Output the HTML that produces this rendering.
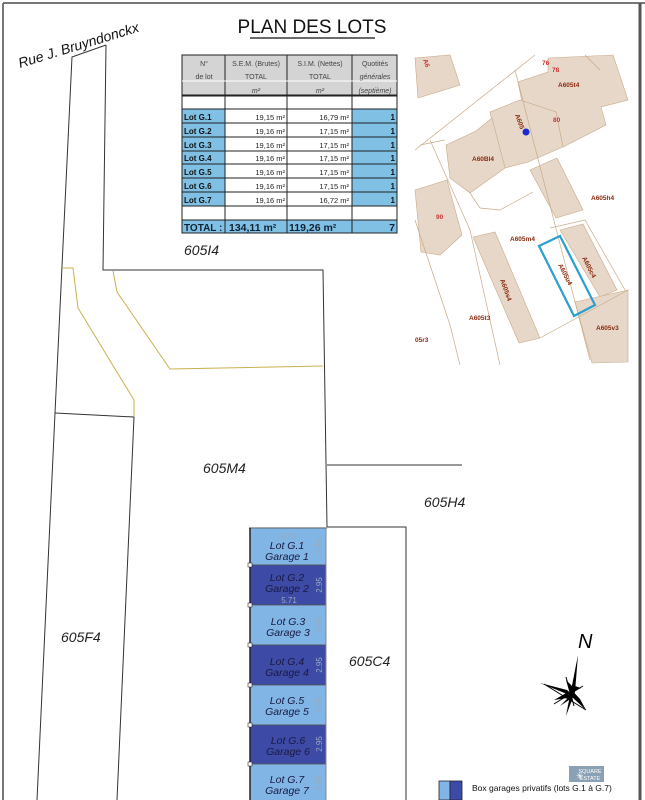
<!DOCTYPE html>
<html><head><meta charset="utf-8"><style>
html,body{margin:0;padding:0;background:#fff}
svg{display:block}
text{font-family:"Liberation Sans","DejaVu Sans",sans-serif}
</style></head><body>
<svg width="645" height="800" viewBox="0 0 645 800" xmlns="http://www.w3.org/2000/svg">
<rect width="645" height="800" fill="#fff"/>
<!-- page frame -->
<line x1="3" y1="3" x2="645" y2="3" stroke="#777" stroke-width="2"/>
<line x1="3" y1="3" x2="3" y2="800" stroke="#777" stroke-width="2"/>
<line x1="640" y1="3" x2="640" y2="800" stroke="#555" stroke-width="3"/>

<!-- title -->
<text x="312" y="33" font-size="19" text-anchor="middle" fill="#111" font-family="Liberation Sans, sans-serif">PLAN DES LOTS</text>
<line x1="250" y1="38" x2="375" y2="38" stroke="#111" stroke-width="1.3"/>

<!-- street -->
<text x="20" y="68" font-size="14" font-style="italic" fill="#111" transform="rotate(-17 20 68)">Rue J. Bruyndonckx</text>

<!-- plot lines -->
<g stroke="#333" stroke-width="1" fill="none">
<polyline points="106,45 72,57 55,413 37,800"/>
<polyline points="106,45 103,270 323,270 327,527"/>
<polyline points="55,413 134,417 117,800"/>
<line x1="327" y1="465" x2="462" y2="465"/>
<polyline points="327,527 406,527 406,800"/>
<line x1="249" y1="528" x2="327" y2="528"/>
</g>
<g stroke="#c9b050" stroke-width="1" fill="none">
<polyline points="62,268 73,268 78,308 134,400 134,416"/>
<polyline points="113,271 117,292 170,369 323,366"/>
</g>

<!-- garages -->
<g stroke="#555" stroke-width="0.8">
<rect x="250" y="528" width="76" height="37" fill="#80b5e6"/>
<rect x="250" y="565" width="76" height="40" fill="#3d4aa6"/>
<rect x="250" y="605" width="76" height="40" fill="#80b5e6"/>
<rect x="250" y="645" width="76" height="40" fill="#3d4aa6"/>
<rect x="250" y="685" width="76" height="40" fill="#80b5e6"/>
<rect x="250" y="725" width="76" height="39" fill="#3d4aa6"/>
<rect x="250" y="764" width="76" height="40" fill="#80b5e6"/>
</g>
<line x1="250" y1="528" x2="250" y2="800" stroke="#222" stroke-width="1.5"/>
<line x1="326" y1="528" x2="326" y2="800" stroke="#888" stroke-width="1"/>
<g fill="#fff" stroke="#333" stroke-width="0.6">
<rect x="248" y="563" width="4" height="4"/><rect x="248" y="603" width="4" height="4"/>
<rect x="248" y="643" width="4" height="4"/><rect x="248" y="683" width="4" height="4"/>
<rect x="248" y="723" width="4" height="4"/><rect x="248" y="762" width="4" height="4"/>
</g>
<g font-size="10.5" font-style="italic" fill="#1a1a40" text-anchor="middle">
<text x="287" y="549">Lot  G.1</text><text x="287" y="560">Garage  1</text>
<text x="287" y="581">Lot  G.2</text><text x="287" y="592">Garage  2</text>
<text x="288" y="625">Lot  G.3</text><text x="288" y="636">Garage  3</text>
<text x="287" y="665">Lot  G.4</text><text x="287" y="676">Garage  4</text>
<text x="287" y="704">Lot  G.5</text><text x="287" y="715">Garage  5</text>
<text x="288" y="744">Lot  G.6</text><text x="288" y="755">Garage  6</text>
<text x="287" y="783">Lot  G.7</text><text x="287" y="794">Garage  7</text>
</g>
<g font-size="8" fill="#9ab" text-anchor="middle">
<text x="289" y="539">5.71</text><text x="289" y="603">5.71</text>
<text transform="translate(322,547) rotate(-90)">2.88</text>
<text transform="translate(322,585) rotate(-90)">2.95</text>
<text transform="translate(322,625) rotate(-90)">2.95</text>
<text transform="translate(322,665) rotate(-90)">2.95</text>
<text transform="translate(322,705) rotate(-90)">2.95</text>
<text transform="translate(322,744) rotate(-90)">2.95</text>
<text transform="translate(322,783) rotate(-90)">2.88</text>
</g>

<!-- plot labels -->
<g font-size="14" font-style="italic" fill="#222">
<text x="184" y="255">605I4</text>
<text x="203" y="473">605M4</text>
<text x="424" y="507">605H4</text>
<text x="61" y="642">605F4</text>
<text x="349" y="666">605C4</text>
</g>

<!-- table -->
<g stroke="#222" stroke-width="1">
<rect x="182" y="55" width="215" height="40" fill="#d4d4d4"/>
<rect x="182" y="96" width="215" height="13" fill="#fff"/>
<rect x="182" y="109" width="43" height="97" fill="#7fc0e4"/>
<rect x="225" y="109" width="127" height="97" fill="#fff"/>
<rect x="352" y="109" width="45" height="97" fill="#7fc0e4"/>
<rect x="182" y="206" width="215" height="14" fill="#fff"/>
<rect x="182" y="220" width="215" height="13" fill="#7fc0e4"/>
<line x1="225" y1="55" x2="225" y2="233"/><line x1="287" y1="55" x2="287" y2="233"/><line x1="352" y1="55" x2="352" y2="233"/>
<line x1="182" y1="81" x2="397" y2="81" stroke="#fff"/>
<line x1="182" y1="123" x2="397" y2="123"/><line x1="182" y1="137" x2="397" y2="137"/>
<line x1="182" y1="151" x2="397" y2="151"/><line x1="182" y1="164" x2="397" y2="164"/>
<line x1="182" y1="178" x2="397" y2="178"/><line x1="182" y1="192" x2="397" y2="192"/>
</g>
<g font-size="7" fill="#444" text-anchor="middle">
<text x="204" y="66">N°</text><text x="204" y="79">de lot</text>
<text x="256" y="66">S.E.M. (Brutes)</text><text x="256" y="79">TOTAL</text>
<text x="320" y="66">S.I.M. (Nettes)</text><text x="320" y="79">TOTAL</text>
<text x="375" y="66">Quotités</text><text x="375" y="79" font-style="italic">générales</text>
<text x="256" y="93" font-style="italic">m²</text><text x="320" y="93" font-style="italic">m²</text>
<text x="375" y="93" font-style="italic">(septième)</text>
</g>
<g font-size="8" font-family="Liberation Serif, serif" font-weight="bold" fill="#111">
<text x="184" y="120">Lot G.1</text><text x="184" y="134">Lot G.2</text><text x="184" y="148">Lot G.3</text>
<text x="184" y="161">Lot G.4</text><text x="184" y="175">Lot G.5</text><text x="184" y="189">Lot G.6</text>
<text x="184" y="203">Lot G.7</text>
</g>
<g font-size="7.5" fill="#222" text-anchor="end">
<text x="285" y="120">19,15 m²</text><text x="349" y="120">16,79 m²</text>
<text x="285" y="134">19,16 m²</text><text x="349" y="134">17,15 m²</text>
<text x="285" y="148">19,16 m²</text><text x="349" y="148">17,15 m²</text>
<text x="285" y="161">19,16 m²</text><text x="349" y="161">17,15 m²</text>
<text x="285" y="175">19,16 m²</text><text x="349" y="175">17,15 m²</text>
<text x="285" y="189">19,16 m²</text><text x="349" y="189">17,15 m²</text>
<text x="285" y="203">19,16 m²</text><text x="349" y="203">16,72 m²</text>
</g>
<g font-size="8" font-weight="bold" fill="#111" text-anchor="end">
<text x="395" y="120">1</text><text x="395" y="134">1</text><text x="395" y="148">1</text>
<text x="395" y="161">1</text><text x="395" y="175">1</text><text x="395" y="189">1</text><text x="395" y="203">1</text>
</g>
<text x="184" y="231" font-size="10" font-family="Liberation Serif, serif" font-weight="bold" fill="#123">TOTAL :</text>
<g font-size="10.5" font-weight="bold" fill="#123">
<text x="229" y="231">134,11 m²</text><text x="289" y="231">119,26 m²</text>
<text x="395" y="231" text-anchor="end">7</text>
</g>

<!-- cadastral inset -->
<g fill="#e6d7c8" stroke="#c9aa88" stroke-width="0.6">
<polygon points="415,58 450,55 460,85 418,98"/>
<polygon points="548,58 613,55 628,100 601,107 606,125 563,147 556,112 522,102 518,82 548,72"/>
<polygon points="490,112 520,100 556,112 563,147 528,162 505,168 498,150"/>
<polygon points="446,145 476,131 492,118 505,168 470,193 450,178"/>
<polygon points="530,170 557,158 583,210 556,218"/>
<polygon points="415,190 447,180 462,235 440,255 421,252"/>
<polygon points="473,237 495,232 540,338 519,343"/>
<polygon points="560,230 583,224 617,290 600,297"/>
<polygon points="575,302 628,290 628,362 592,363"/>
</g>
<g stroke="#c9aa88" stroke-width="0.7" fill="none">
<polyline points="415,150 535,55"/><polyline points="420,145 445,140"/>
<polyline points="430,140 470,230 500,365"/>
<polyline points="515,70 590,360"/>
<polyline points="470,193 480,208 500,210 533,192"/>
<polyline points="415,220 450,325 460,365"/>
<polyline points="550,228 585,220 625,290"/>
<polyline points="540,338 628,290"/>
<polyline points="585,55 600,70"/>
</g>
<polygon points="539,246 560,236 595,305 574,316" fill="none" stroke="#2a9fd0" stroke-width="2.2"/>
<circle cx="526" cy="132" r="3.5" fill="#1a2ad0"/>
<g font-size="6.5" fill="#8a2a10" font-weight="bold">
<text x="542" y="65" fill="#c33">76</text><text x="552" y="72" fill="#c33">78</text>
<text x="558" y="87">A605t4</text><text x="553" y="122" fill="#c33">80</text>
<text x="472" y="161">A60Bl4</text><text x="591" y="200">A605h4</text>
<text x="436" y="219" fill="#c33">90</text><text x="510" y="241">A605m4</text>
<text x="469" y="320">A605t3</text><text x="415" y="342">05r3</text>
<text x="596" y="330">A605v3</text>
<text transform="translate(515,115) rotate(70)">A605</text>
<text transform="translate(500,280) rotate(70)">A605s4</text>
<text transform="translate(558,265) rotate(63)">A605u4</text>
<text transform="translate(582,258) rotate(63)">A605c4</text>
<text transform="translate(423,60) rotate(70)" fill="#c33">A6</text>
</g>

<!-- compass -->
<text x="578" y="648" font-size="20" font-style="italic" fill="#000">N</text>
<g fill="#000">
<polygon points="578,655 571,695 565,716 572,690"/>
<polygon points="578,655 575,692 566,716"/>
<polygon points="540,683 567,690 580,701 567,694" />
<polygon points="569,687 580,699 586,710 572,697"/>
<polygon points="554,700 568,692 574,697"/>
<polygon points="566,680 570,694 576,690"/>
<polygon points="568,694 575,686 581,688"/>
<polygon points="560,706 572,694 569,700"/>
</g>
<g stroke="#000" stroke-width="1">
<line x1="544" y1="684" x2="586" y2="710"/>
<line x1="566" y1="677" x2="574" y2="706"/>
<line x1="554" y1="704" x2="583" y2="686"/>
</g>

<!-- logo -->
<rect x="569" y="766" width="35" height="16" fill="#8aa0b4"/>
<text x="590" y="773" font-size="5.5" fill="#fff" font-family="Liberation Serif, serif" text-anchor="middle">SQUARE</text>
<text x="590" y="780" font-size="5.5" fill="#fff" font-family="Liberation Serif, serif" text-anchor="middle">ESTATE</text>
<text x="576" y="779" font-size="9" fill="#fff">✳</text>

<!-- legend -->
<rect x="439" y="781" width="11" height="19" fill="#80b5e6" stroke="#223" stroke-width="0.8"/>
<rect x="450" y="781" width="12" height="19" fill="#3d4aa6" stroke="#223" stroke-width="0.8"/>
<text x="472" y="791" font-size="8.5" fill="#111">Box garages privatifs (lots G.1 à G.7)</text>
</svg>
</body></html>
